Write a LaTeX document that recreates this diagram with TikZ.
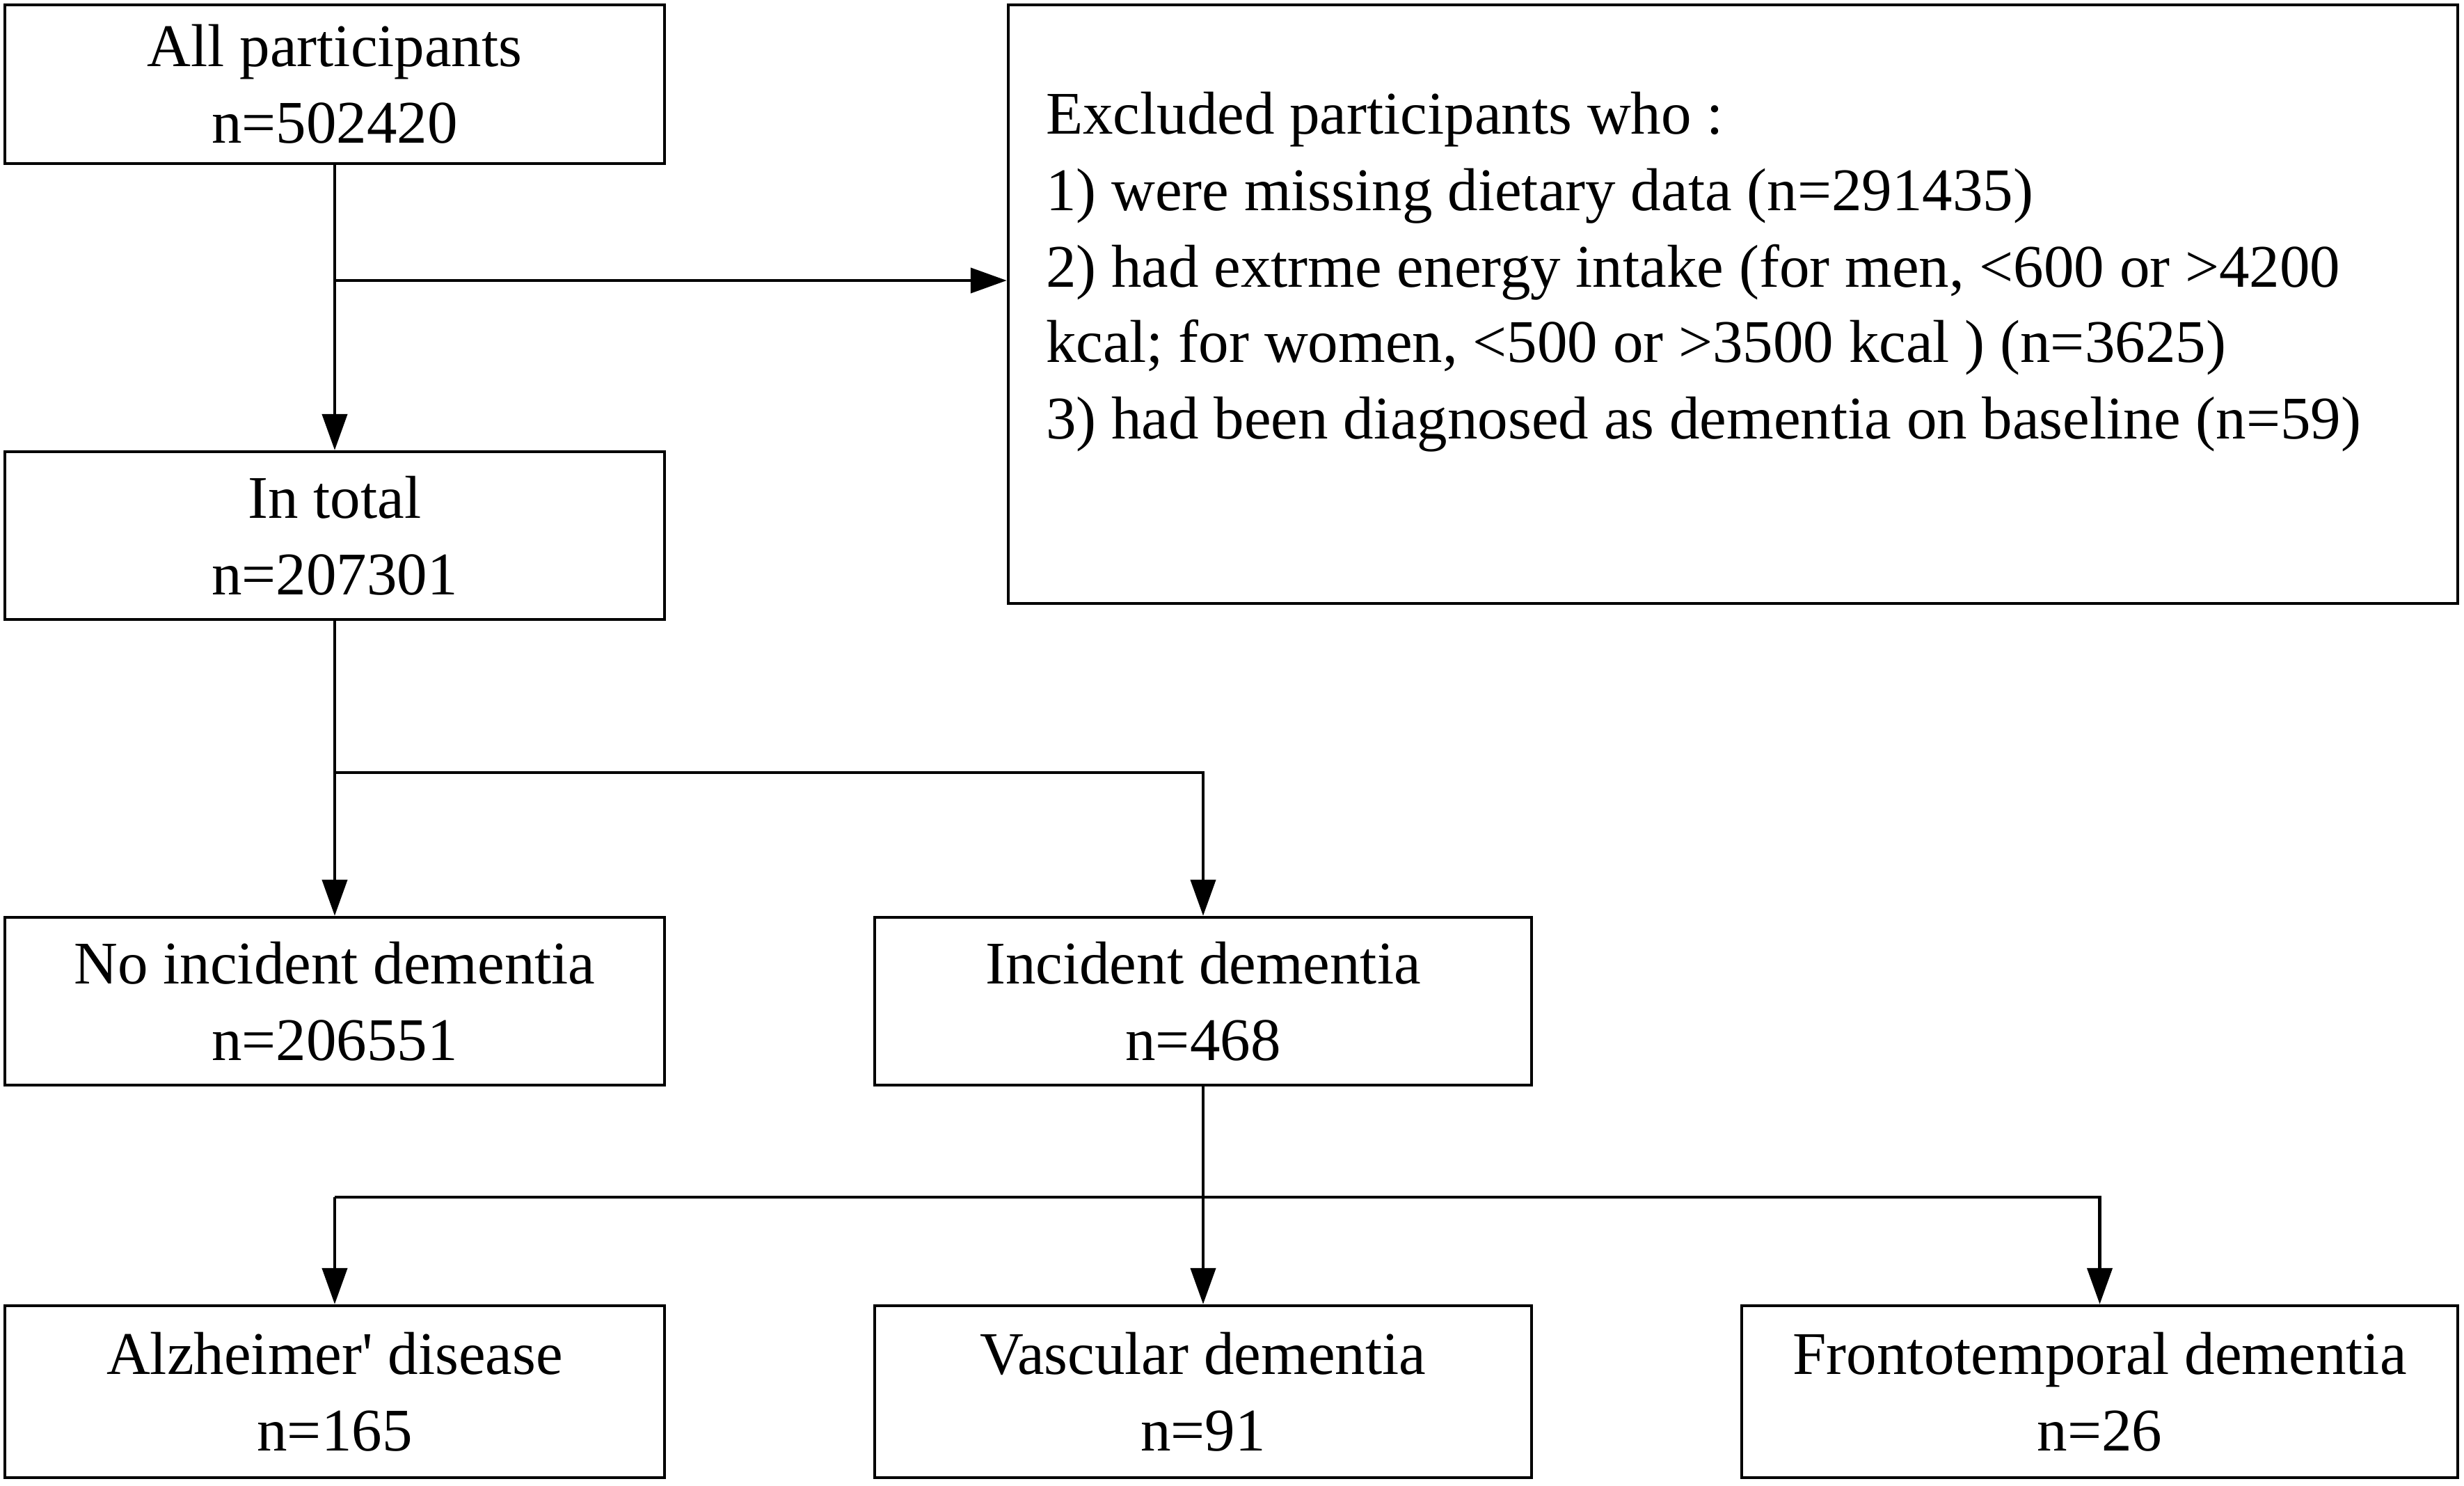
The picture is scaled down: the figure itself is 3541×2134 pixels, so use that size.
\documentclass[tikz,border=0pt]{standalone}
\usepackage{fontspec}
\setmainfont{Liberation Serif}
\usetikzlibrary{arrows.meta}
\begin{document}
\begin{tikzpicture}[x=0.2pt,y=-0.2pt,
  every node/.style={font=\fontsize{17.4pt}{22pt}\selectfont},
  box/.style={draw, line width=0.9pt, inner sep=0pt, align=center, minimum width=189.6pt, minimum height=48.2pt},
  txt/.style={anchor=base west, inner sep=0pt},
  conn/.style={line width=0.9pt},
  arr/.style={conn, -{Triangle[length=10.4pt,width=7.2pt]}}]
\useasboundingbox (0,0) rectangle (3541,2134);
% boxes
\node[box, minimum height=45.6pt] (all) at (481,121) {All participants\\n=502420};
\node[draw, line width=0.9pt, minimum width=416.6pt, minimum height=172pt, inner sep=0pt] (excl) at (2490.5,437) {};
\node[txt] (e0) at (1502,192) {Excluded participants who\hspace{0.25em}:};
\node[txt] (e1) at (1502,302) {1) were missing dietary data (n=291435)};
\node[txt] (e2) at (1502,412) {2) had extrme energy intake (for men, <600 or >4200};
\node[txt] (e3) at (1502,520) {kcal; for women, <500 or >3500 kcal ) (n=3625)};
\node[txt] (e4) at (1502,630) {3) had been diagnosed as dementia on baseline (n=59)};
\node[box] (total) at (481,769.5) {In total\\n=207301};
\node[box] (noinc) at (481,1438.5) {No incident dementia\\n=206551};
\node[box, minimum width=188.8pt] (inc) at (1729,1438.5) {Incident dementia\\n=468};
\node[box, minimum height=49.4pt] (alz) at (481,1999.5) {Alzheimer\textquotesingle{} disease\\n=165};
\node[box, minimum height=49.4pt, minimum width=188.8pt] (vas) at (1729,1999.5) {Vascular dementia\\n=91};
\node[box, minimum height=49.4pt, minimum width=205.8pt] (fro) at (3017.5,1999.5) {Frontotemporal dementia\\n=26};
% connectors
\coordinate (j1) at (481,403);
\draw[arr] (all.south) -- (total.north);
\draw[arr] (j1) -- (j1 -| excl.west);
\coordinate (j2) at (481,1110);
\draw[conn] (total.south) -- (j2);
\draw[arr] (j2) -- (noinc.north);
\draw[arr] (j2) -| (inc.north);
\coordinate (j3) at (481,1720);
\draw[arr] (inc.south) -- (vas.north);
\draw[arr] (j3) -- (alz.north);
\draw[arr] (j3) -| (fro.north);
\end{tikzpicture}
\end{document}
